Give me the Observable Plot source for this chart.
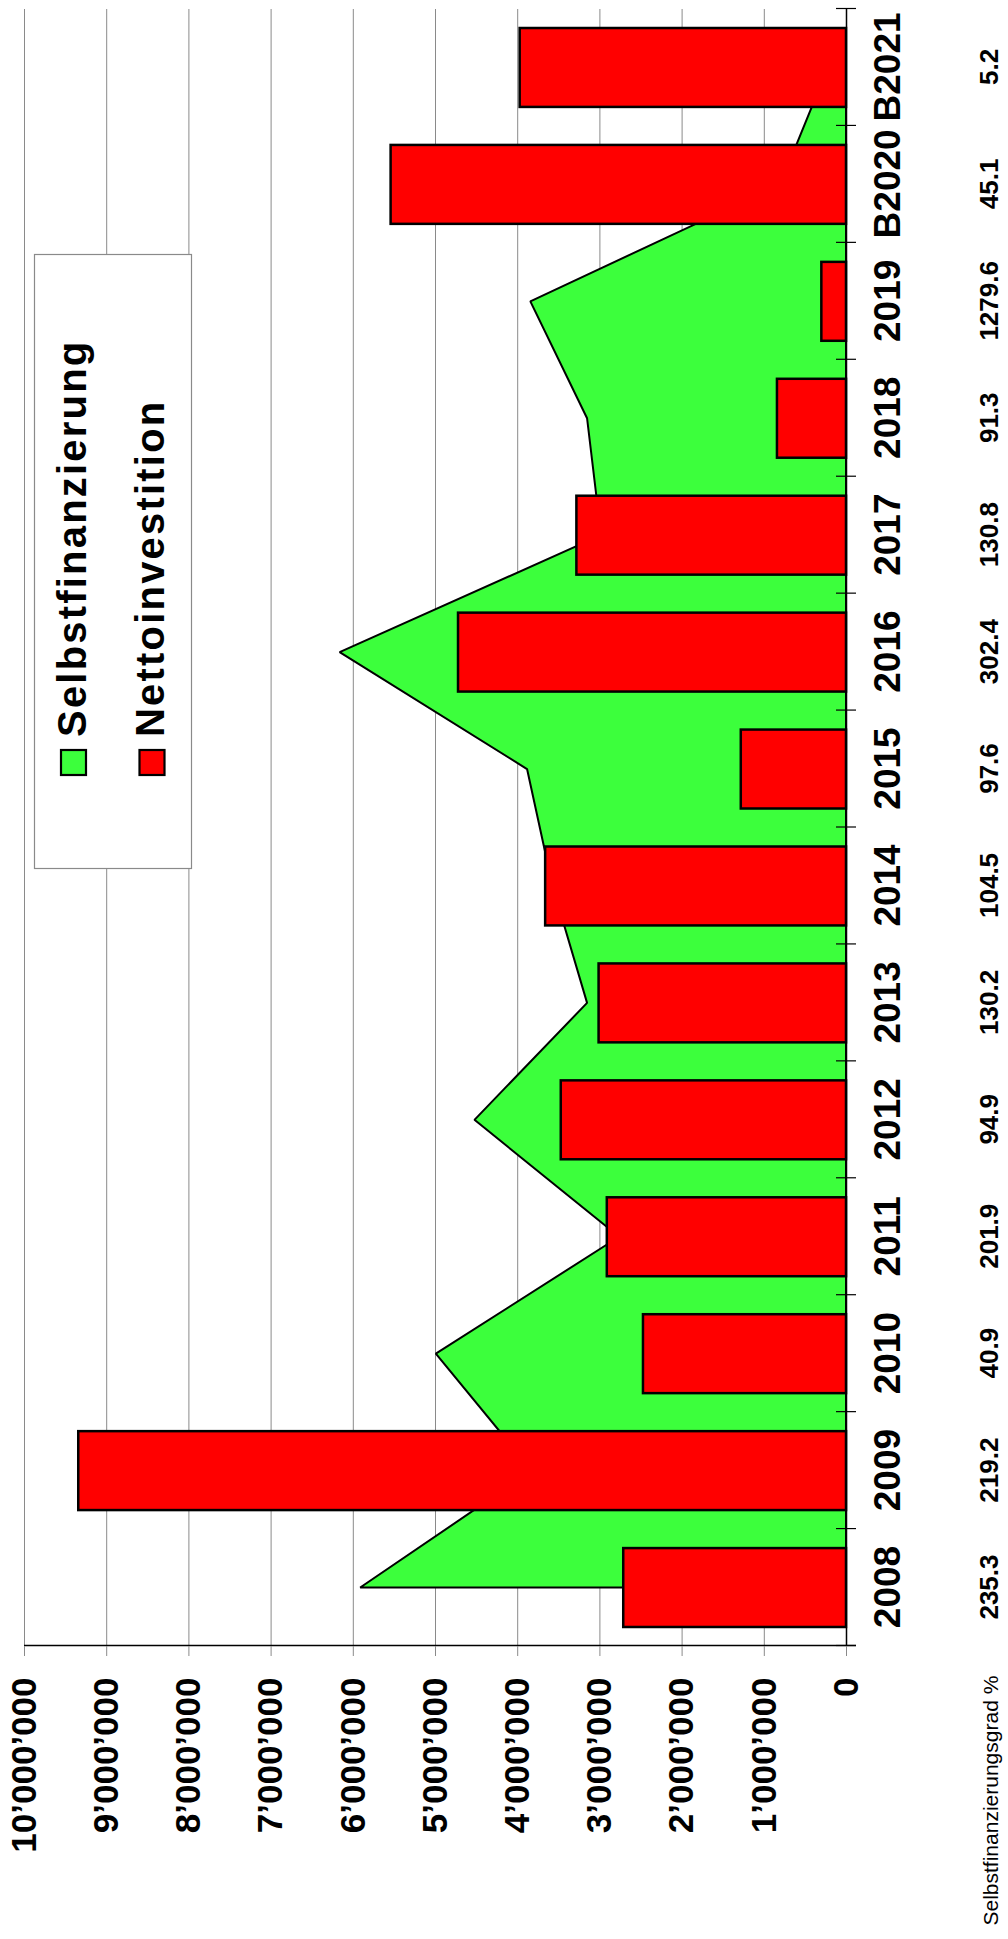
<!DOCTYPE html>
<html>
<head>
<meta charset="utf-8">
<script src="https://cdn.jsdelivr.net/npm/d3@7"></script>
<script src="https://cdn.jsdelivr.net/npm/@observablehq/plot@0.6"></script>
<style>
  html, body { margin: 0; padding: 0; background: #fff; }
  #wrap { position: relative; width: 1008px; height: 1939px; overflow: hidden; background: #fff; }
  #rot { position: absolute; left: 0; top: 0; width: 1939px; height: 1008px;
         transform-origin: 0 0; transform: translate(0px, 1939px) rotate(-90deg); }
  #rot svg { position: absolute; left: 0; top: 0; overflow: visible; }
</style>
</head>
<body>
<div id="wrap"><div id="rot"></div></div>
<script>
// ---- data ----
const categories = ["2008","2009","2010","2011","2012","2013","2014","2015","2016","2017","2018","2019","B2020","B2021"];
const nettoinvestition = [2710000, 9340000, 2470000, 2910000, 3470000, 3010000, 3660000, 1280000, 4720000, 3280000, 840000, 300000, 5540000, 3970000];
const selbstfinanzierung = [5910000, 3820000, 4990000, 2760000, 4520000, 3150000, 3570000, 3880000, 6160000, 2980000, 3150000, 3840000, 800000, 220000];
const selbstfinanzierungsgrad = ["235.3","219.2","40.9","201.9","94.9","130.2","104.5","97.6","302.4","130.8","91.3","1279.6","45.1","5.2"];
const valueTicks = [0, 1000000, 2000000, 3000000, 4000000, 5000000, 6000000, 7000000, 8000000, 9000000, 10000000];
const seriesNames = ["Selbstfinanzierung", "Nettoinvestition"];
const seriesColors = ["#3cff3c", "#ff0000"];
const gradLabel = "Selbstfinanzierungsgrad %";

const rows = categories.map((c, i) => ({
  i, cat: c, netto: nettoinvestition[i], selbst: selbstfinanzierung[i], grad: selbstfinanzierungsgrad[i]
}));
const boundaries = d3.range(categories.length + 1).map(k => k - 0.5);
const fmt = d => d3.format(",")(d).replace(/,/g, "\u2019");
const FONT = "'Liberation Sans', Arial, Helvetica, sans-serif";
const half = 0.3375;

const chart = Plot.plot({
  width: 1939,
  height: 1008,
  marginLeft: 293,
  marginRight: 9,
  marginTop: 24,
  marginBottom: 162,
  style: { fontFamily: FONT, background: "white", color: "black", overflow: "visible" },
  x: { type: "linear", domain: [-0.5, categories.length - 0.5], axis: null, label: null },
  y: { domain: [0, 10000000], axis: null, label: null },
  marks: [
    Plot.ruleY(valueTicks, { stroke: "#8a8a8a", strokeWidth: 1 }),
    Plot.areaY(rows, { x: "i", y1: 0, y2: "selbst", fill: seriesColors[0], stroke: "black", strokeWidth: 2, strokeLinejoin: "miter" }),
    Plot.rect(rows, { x1: d => d.i - half, x2: d => d.i + half, y1: 0, y2: "netto", fill: seriesColors[1], stroke: "black", strokeWidth: 2.5 }),
    Plot.ruleY([0], { stroke: "black", strokeWidth: 1.5 }),
    Plot.ruleX([-0.5], { stroke: "black", strokeWidth: 1.5, insetBottom: -10 }),
    Plot.ruleX(boundaries, { y1: 0, y2: 0, insetTop: -10, insetBottom: -10, stroke: "black", strokeWidth: 1.2 }),
    Plot.axisY({ ticks: valueTicks, tickSize: 10, tickPadding: 22, tickFormat: fmt, label: null, fontSize: 35, fontWeight: "bold", stroke: "#8a8a8a", fill: "black" }),
    Plot.axisX({ ticks: d3.range(categories.length), tickSize: 0, tickPadding: 27, tickFormat: i => categories[i], label: null, fontSize: 37, fontWeight: "bold", fill: "black" }),
    Plot.text(rows, { x: "i", y: 0, dy: 133, lineAnchor: "top", text: "grad", fontSize: 26, fontWeight: "bold", fill: "black" }),
    Plot.text([gradLabel], { frameAnchor: "bottom-left", dx: -280, dy: 137, textAnchor: "start", lineAnchor: "top", fontSize: 21, fill: "black" })
  ]
});
document.getElementById("rot").appendChild(chart);

// ---- legend (unrotated frame; rotated together with the chart) ----
const leg = d3.select("#rot").append("svg")
  .attr("width", 1939).attr("height", 1008)
  .style("pointer-events", "none");
leg.append("rect")
  .attr("x", 1070.5).attr("y", 34.5).attr("width", 614).attr("height", 157)
  .attr("fill", "white").attr("stroke", "#8a8a8a").attr("stroke-width", 1.2);
const legendRows = [ { v: 61, base: 86 }, { v: 139.5, base: 164 } ];
seriesNames.forEach((name, k) => {
  leg.append("rect")
    .attr("x", 1164).attr("y", legendRows[k].v).attr("width", 25).attr("height", 25)
    .attr("fill", seriesColors[k]).attr("stroke", "black").attr("stroke-width", 2.2);
  leg.append("text")
    .attr("x", 1202).attr("y", legendRows[k].base)
    .attr("font-family", FONT).attr("font-weight", "bold").attr("font-size", 40)
    .attr("letter-spacing", "2.2px")
    .attr("fill", "black")
    .text(name);
});
</script>
</body>
</html>
